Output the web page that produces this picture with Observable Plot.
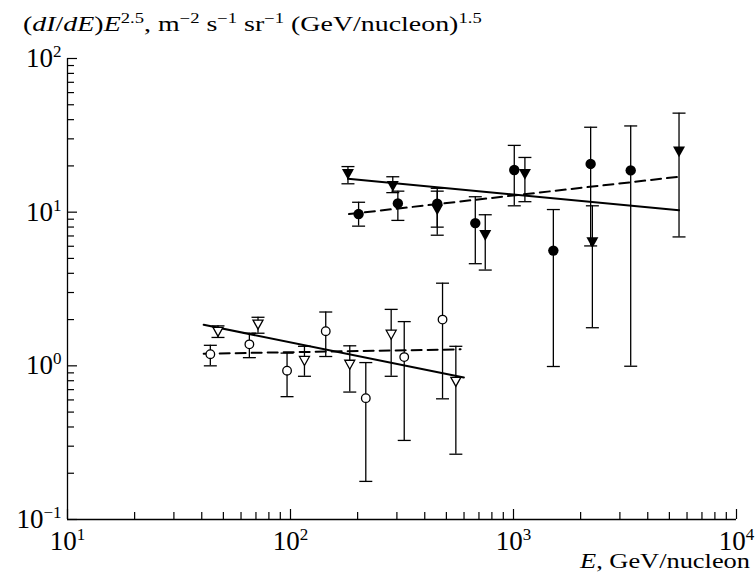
<!DOCTYPE html>
<html><head><meta charset="utf-8">
<script src="https://cdn.jsdelivr.net/npm/d3@7"></script>
<script src="https://cdn.jsdelivr.net/npm/@observablehq/plot@0.6"></script>
<style>body{margin:0;background:#fff} #chart svg{display:block}</style>
</head><body><div id="chart"></div>
<script>
// ---- data ----
const xMajor = [10, 100, 1000, 10000];
const yMajor = [0.1, 1, 10, 100];

const openCircE  = [43.7, 65.4, 96.5, 143.9, 217.6, 323.6, 480.6];
const openCircI  = [1.19, 1.38, 0.93, 1.68, 0.616, 1.14, 2.0];
const openCircHi = [1.36, 1.63, 1.21, 2.24, 1.05, 1.94, 3.45];
const openCircLo = [1.00, 1.13, 0.63, 1.15, 0.177, 0.327, 0.61];

const openTriE  = [47.3, 71.5, 115.5, 184.4, 282.8, 551.4];
const openTriI  = [1.67, 1.86, 1.08, 1.02, 1.60, 0.79];
const openTriHi = [1.82, 2.07, 1.34, 1.35, 2.33, 1.34];
const openTriLo = [1.53, 1.63, 0.855, 0.675, 0.855, 0.266];

const fillCircE  = [202, 303, 455, 674, 1008, 1509, 2218, 3354];
const fillCircI  = [9.72, 11.4, 11.35, 8.49, 18.8, 5.62, 20.6, 18.7];
const fillCircHi = [11.6, 13.7, 14.3, 12.6, 27.2, 10.4, 35.7, 36.4];
const fillCircLo = [8.11, 8.84, 7.99, 4.62, 11.0, 0.99, 6.03, 0.994];

const fillTriE  = [181, 287.5, 455, 747, 1125, 2258, 5524];
const fillTriI  = [17.7, 14.8, 10.4, 7.08, 17.7, 6.37, 24.8];
const fillTriHi = [19.8, 17.0, 13.7, 9.62, 22.7, 11.0, 44.1];
const fillTriLo = [15.3, 13.4, 7.08, 4.2, 11.7, 1.77, 6.9];

const fitFillSolidE = [181, 5524], fitFillSolidI = [16.5, 10.3];
const fitFillDashE  = [183, 5524], fitFillDashI  = [9.72, 17.0];
const fitOpenSolidE = [40.8, 599], fitOpenSolidI = [1.85, 0.84];
const fitOpenDashE  = [40.8, 579], fitOpenDashI  = [1.20, 1.28];

// ---- helpers ----
const rows = (E, I, lo, hi) => E.map((e, i) => ({e, v: I[i], lo: lo ? lo[i] : null, hi: hi ? hi[i] : null}));
const minorOf = majors => majors.slice(0, -1).flatMap(m => [2,3,4,5,6,7,8,9].map(k => k * m));
const xMinor = minorOf(xMajor), yMinor = minorOf(yMajor);

const W = 756, H = 586, mL = 67, mR = 20, mT = 58, mB = 67;
const pw = W - mL - mR, ph = H - mT - mB;
const SERIF = "'Liberation Serif', 'Times New Roman', serif";

const triDown = {draw(ctx, size) { const r = Math.sqrt(size / Math.PI);
  ctx.moveTo(-r, -0.85 * r); ctx.lineTo(r, -0.85 * r); ctx.lineTo(0, 0.95 * r); ctx.closePath(); }};
const capSym = {draw(ctx) { ctx.moveTo(-6.5, 0); ctx.lineTo(6.5, 0); }};

const oc = rows(openCircE, openCircI, openCircLo, openCircHi);
const ot = rows(openTriE, openTriI, openTriLo, openTriHi);
const fc = rows(fillCircE, fillCircI, fillCircLo, fillCircHi);
const ft = rows(fillTriE, fillTriI, fillTriLo, fillTriHi);
const all = [...oc, ...ot, ...fc, ...ft];

const fmt = d => "10^" + Math.round(Math.log10(d));

const chart = Plot.plot({
  width: W, height: H, marginLeft: mL, marginRight: mR, marginTop: mT, marginBottom: mB,
  x: {type: "log", domain: [10, 10000]},
  y: {type: "log", domain: [0.1, 100]},
  style: {fontFamily: SERIF, fontSize: "27px", color: "black", background: "white", overflow: "visible"},
  marks: [
    Plot.ruleX([10], {stroke: "black", strokeWidth: 1.3}),
    Plot.ruleY([0.1], {stroke: "black", strokeWidth: 1.3}),
    Plot.tickX(xMajor, {x: d => d, insetTop: ph - 10, stroke: "black", strokeWidth: 1.2}),
    Plot.tickX(xMinor, {x: d => d, insetTop: ph - 7, stroke: "black", strokeWidth: 1.2}),
    Plot.tickY(yMajor, {y: d => d, insetRight: pw - 10, stroke: "black", strokeWidth: 1.2}),
    Plot.tickY(yMinor, {y: d => d, insetRight: pw - 7, stroke: "black", strokeWidth: 1.2}),
    Plot.axisX({ticks: xMajor, tickSize: 0, tickPadding: 11, tickFormat: fmt, label: null}),
    Plot.axisY({ticks: yMajor, tickSize: 0, tickPadding: 6, tickFormat: fmt, label: null}),
    // error bars
    Plot.ruleX(all, {x: "e", y1: "lo", y2: "hi", stroke: "black", strokeWidth: 1.3}),
    Plot.dot(all, {x: "e", y: "hi", symbol: capSym, r: 1, fill: "none", stroke: "black", strokeWidth: 1.3}),
    Plot.dot(all, {x: "e", y: "lo", symbol: capSym, r: 1, fill: "none", stroke: "black", strokeWidth: 1.3}),
    // fits
    Plot.line(rows(fitFillSolidE, fitFillSolidI), {x: "e", y: "v", stroke: "black", strokeWidth: 2}),
    Plot.line(rows(fitFillDashE, fitFillDashI), {x: "e", y: "v", stroke: "black", strokeWidth: 2, strokeDasharray: "10,6"}),
    Plot.line(rows(fitOpenSolidE, fitOpenSolidI), {x: "e", y: "v", stroke: "black", strokeWidth: 2}),
    Plot.line(rows(fitOpenDashE, fitOpenDashI), {x: "e", y: "v", stroke: "black", strokeWidth: 2, strokeDasharray: "10,6"}),
    // markers
    Plot.dot(oc, {x: "e", y: "v", r: 4.3, fill: "white", stroke: "black", strokeWidth: 1.3}),
    Plot.dot(ot, {x: "e", y: "v", r: 5, symbol: triDown, fill: "white", stroke: "black", strokeWidth: 1.3}),
    Plot.dot(fc, {x: "e", y: "v", r: 5.2, fill: "black", stroke: "none"}),
    Plot.dot(ft, {x: "e", y: "v", r: 6, symbol: triDown, fill: "black", stroke: "none"})
  ]
});

const NS = "http://www.w3.org/2000/svg";
function tsp(parent, txt, opts = {}) {
  const t = document.createElementNS(NS, "tspan");
  t.textContent = txt;
  for (const [k, v] of Object.entries(opts)) t.setAttribute(k, v);
  parent.appendChild(t);
  return t;
}
// superscripted tick labels
chart.querySelectorAll('[aria-label="x-axis tick label"] text, [aria-label="y-axis tick label"] text').forEach(t => {
  const [b, e] = t.textContent.split("^");
  t.textContent = "";
  t.setAttribute("font-family", SERIF);
  t.setAttribute("font-size", "27");
  tsp(t, b);
  tsp(t, e.replace("-", "\u2212"), {"font-size": "17px", dy: "-10"});
});

// axis titles (slightly widened to match the reference's lettering)
function addText(x, y, anchor, size, sx, parts) {
  const t = document.createElementNS(NS, "text");
  t.setAttribute("transform", `translate(${x},${y}) scale(${sx},1)`);
  t.setAttribute("text-anchor", anchor);
  t.setAttribute("font-size", size);
  t.setAttribute("font-family", SERIF);
  t.setAttribute("fill", "black");
  let shift = 0;
  for (const p of parts) {
    const o = {};
    const want = p.sup ? -8 : 0;
    if (want !== shift) { o.dy = String(want - shift); shift = want; }
    if (p.sup) o["font-size"] = Math.round(size * 0.68);
    if (p.it) o["font-style"] = "italic";
    tsp(t, p.t, o);
  }
  chart.appendChild(t);
}
addText(23, 31, "start", 21, 1.33, [
  {t: "("}, {t: "dI", it: 1}, {t: "/"}, {t: "dE", it: 1}, {t: ")"}, {t: "E", it: 1}, {t: "2.5", sup: 1},
  {t: ", m"}, {t: "\u22122", sup: 1}, {t: " s"}, {t: "\u22121", sup: 1}, {t: " sr"}, {t: "\u22121", sup: 1},
  {t: " (GeV/nucleon)"}, {t: "1.5", sup: 1}
]);
addText(750, 568, "end", 22, 1.2, [{t: "E", it: 1}, {t: ", GeV/nucleon"}]);

document.getElementById("chart").appendChild(chart);
</script></body></html>
